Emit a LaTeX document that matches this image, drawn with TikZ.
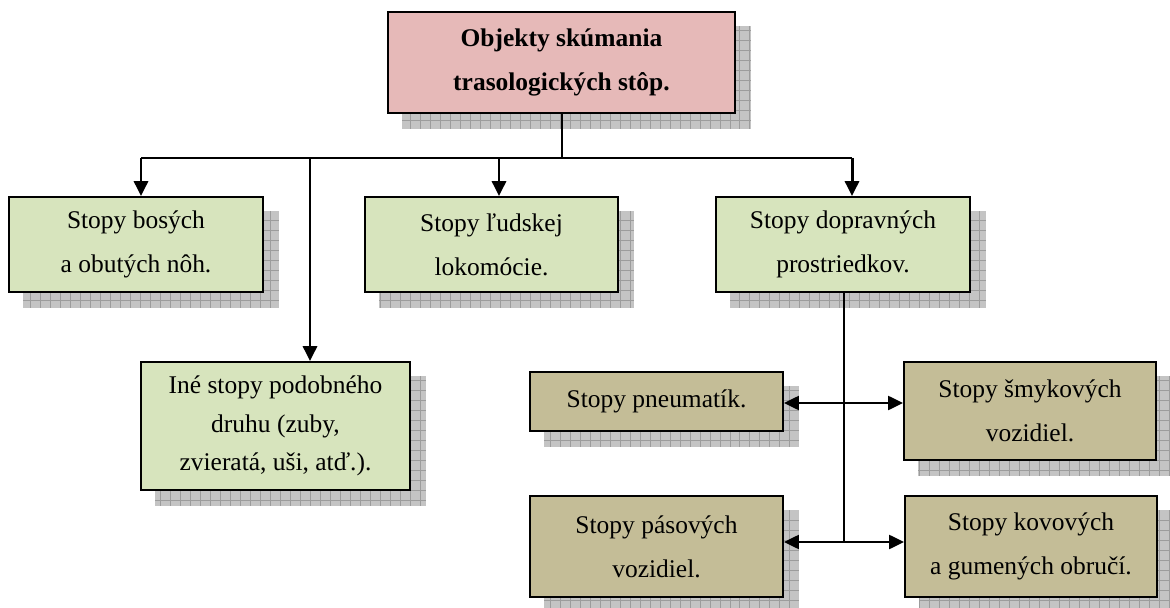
\documentclass[tikz,border=0pt]{standalone}
\usepackage{fontspec}
\setmainfont{Liberation Serif}
\usetikzlibrary{arrows.meta,backgrounds}

\definecolor{pinkfill}{HTML}{E6B9B8}
\definecolor{greenfill}{HTML}{D7E4BD}
\definecolor{tanfill}{HTML}{C4BD97}
\definecolor{shadowgray}{HTML}{C4C4C4}
\definecolor{gridgray}{HTML}{9C9C9C}

\tikzset{
  box/.style={draw, line width=1.1pt, align=center, inner sep=0pt,
    font=\fontsize{14.5}{25}\selectfont},
  headbox/.style={box, fill=pinkfill, font=\bfseries\fontsize{14.5}{25}\selectfont},
  kindbox/.style={box, fill=greenfill},
  carbox/.style={box, fill=tanfill},
  trunk/.style={line width=1.7pt},
  branch/.style={line width=1.1pt},
  tip/.style={-{Triangle[width=8pt,length=8.5pt]}},
}

\begin{document}
\begin{tikzpicture}[x=0.02cm,y=-0.02cm]
\useasboundingbox (0,0) rectangle (1170,608);

\node (objekty) at (561.5,62.5) [headbox, minimum width=6.94cm, minimum height=2.02cm] {Objekty skúmania\\trasologických stôp.};
\node (bosych) at (136,244.5) [kindbox, minimum width=5.08cm, minimum height=1.9cm] {Stopy bosých\\a obutých nôh.};
\node (ludskej) at (491.5,244.5) [kindbox, minimum width=5.06cm, minimum height=1.9cm] {Stopy ľudskej\\lokomócie.};
\node (doprava) at (843,244.5) [kindbox, minimum width=5.08cm, minimum height=1.9cm] {Stopy dopravných\\prostriedkov.};
\node (ine) at (275.5,426) [kindbox, minimum width=5.38cm, minimum height=2.56cm, font=\fontsize{14.5}{22}\selectfont] {Iné stopy podobného\\druhu (zuby,\\zvieratá, uši, atď.).};
\node (pneu) at (656.5,401.5) [carbox, minimum width=5.06cm, minimum height=1.18cm] {Stopy pneumatík.};
\node (smyk) at (1030,411) [carbox, minimum width=5.04cm, minimum height=1.96cm] {Stopy šmykových\\vozidiel.};
\node (pas) at (656.5,546.5) [carbox, minimum width=5.06cm, minimum height=2.02cm] {Stopy pásových\\vozidiel.};
\node (kov) at (1031,546.5) [carbox, minimum width=5.04cm, minimum height=2.02cm] {Stopy kovových\\a gumených obručí.};

% shadows
\begin{scope}[on background layer]
\foreach \n in {objekty,bosych,ludskej,doprava,ine,pneu,smyk,pas,kov} {
  \begin{scope}
    \clip ([xshift=0.3cm,yshift=-0.3cm]\n.south west) rectangle ([xshift=0.3cm,yshift=-0.3cm]\n.north east);
    \fill[shadowgray] ([xshift=0.3cm,yshift=-0.3cm]\n.south west) rectangle ([xshift=0.3cm,yshift=-0.3cm]\n.north east);
    \draw[gridgray, line width=0.4pt, step=0.2cm] ([xshift=0.3cm,yshift=-0.3cm]\n.south west) grid ([xshift=0.3cm,yshift=-0.3cm]\n.north east);
  \end{scope}
}
\end{scope}

\coordinate (split) at (562,158);
\coordinate (barL) at (141,158);
\coordinate (barI) at (310,158);
\coordinate (barM) at (499,158);
\coordinate (barR) at (852,158);
\coordinate (j1) at (844,403);
\coordinate (j2) at (844,542);

\draw[trunk] (objekty.south -| split) -- (split);
\draw[trunk] (barL) -- (barR);
\draw[trunk, tip] (barL) -- (barL |- bosych.north);
\draw[trunk, tip] (barI) -- (barI |- ine.north);
\draw[trunk, tip] (barM) -- (barM |- ludskej.north);
\draw[trunk, tip] (barR) -- (barR |- doprava.north);

\draw[branch] (doprava.south -| j1) -- (j2);
\draw[branch, tip] (j1) -- (pneu.east |- j1);
\draw[branch, tip] (j1) -- (smyk.west |- j1);
\draw[branch, tip] (j2) -- (pas.east |- j2);
\draw[branch, tip] (j2) -- (kov.west |- j2);
\end{tikzpicture}
\end{document}
